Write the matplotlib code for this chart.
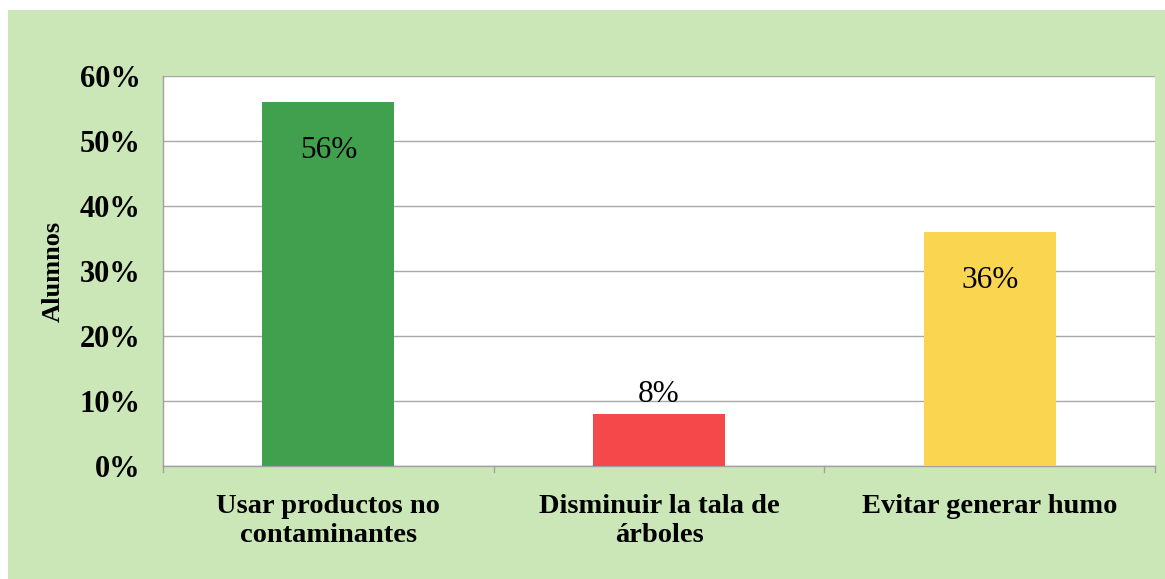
import matplotlib
matplotlib.use("Agg")
import matplotlib.pyplot as plt
from matplotlib.patches import Rectangle
import numpy as np

categories = ["Usar productos no\ncontaminantes", "Disminuir la tala de\nárboles", "Evitar generar humo"]
values = [56, 8, 36]
value_labels = ["56%", "8%", "36%"]
label_inside = [True, False, True]
bar_colors = ["#40a04e", "#f4484a", "#fad650"]
yticks = [0, 10, 20, 30, 40, 50, 60]
ytick_labels = ["0%", "10%", "20%", "30%", "40%", "50%", "60%"]
ylabel = "Alumnos"

W, H = 1165, 579
fig = plt.figure(figsize=(W / 100, H / 100), dpi=100)
fig.patch.set_facecolor("white")

# light green chart background panel
fig.patches.append(Rectangle((8 / W, 0), 1 - 8 / W, (H - 10) / H,
                             transform=fig.transFigure, facecolor="#cbe7b8",
                             edgecolor="none", zorder=0))

ax = fig.add_axes([163 / W, (H - 466) / H, 992 / W, 390 / H])
ax.set_facecolor("white")
ax.set_zorder(1)

serif = ["Liberation Serif", "DejaVu Serif"]

x = np.arange(len(categories))
ax.bar(x, values, width=0.4, color=bar_colors, zorder=3)
ax.set_xlim(-0.5, len(categories) - 0.5)
ax.set_ylim(0, 60)

ax.set_yticks(yticks)
ax.set_yticklabels(ytick_labels, family=serif, fontsize=22, fontweight="bold")
ax.tick_params(axis="y", length=0, pad=16)
ax.yaxis.grid(True, color="#a8a8a8", linewidth=1.0, zorder=0)

ax.set_xticks(x)
ax.set_xticklabels(categories, family=serif, fontsize=20.5, fontweight="bold",
                   linespacing=1.2)
ax.tick_params(axis="x", length=0, pad=20)
# category boundary ticks
for b in np.arange(-0.5, len(categories), 1.0):
    ax.plot([b, b], [0, -0.9], color="#a0a0a0", linewidth=1.0,
            clip_on=False, zorder=2)

for s in ["top", "right"]:
    ax.spines[s].set_visible(False)
for s in ["left", "bottom"]:
    ax.spines[s].set_color("#a0a0a0")
    ax.spines[s].set_linewidth(1.0)

ax.set_ylabel(ylabel, family=serif, fontsize=19, fontweight="bold", labelpad=11)

for xi, v, lab, inside in zip(x, values, value_labels, label_inside):
    if inside:
        ax.text(xi, v - 7.5, lab, ha="center", va="center", family=serif,
                fontsize=22.5, zorder=4)
    else:
        ax.text(xi, v + 3.0, lab, ha="center", va="center", family=serif,
                fontsize=22.5, zorder=4)

fig.savefig("out.png", dpi=100, facecolor=fig.get_facecolor())
